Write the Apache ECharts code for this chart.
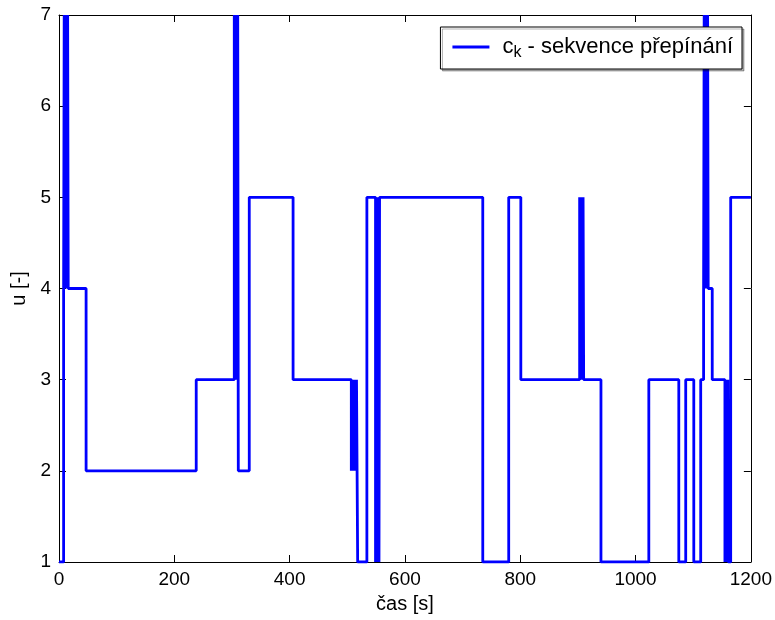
<!DOCTYPE html>
<html>
<head>
<meta charset="utf-8">
<script src="https://cdn.jsdelivr.net/npm/echarts@6/dist/echarts.min.js"></script>
<style>
html,body{margin:0;padding:0;background:#fff;}
#chart{width:775px;height:620px;}
</style>
</head>
<body>
<div id="chart"></div>
<script>
// switching times [s] and the value held from that time on
const times = [
  0, 8, 9, 10, 11, 12, 13, 14, 15, 16, 17,
  47, 238,
  304, 305, 306, 307, 308, 309, 310, 311,
  330, 406,
  507, 508, 509, 510, 511, 512, 513, 514, 515, 516, 517, 518,
  534,
  549, 550, 551, 552, 553, 554, 555, 556, 557,
  735, 780, 801,
  903, 904, 905, 906, 907, 908, 909, 910, 911,
  940, 1023, 1075, 1087, 1101, 1113,
  1118, 1119, 1120, 1121, 1122, 1123, 1124, 1125, 1126,
  1133,
  1155, 1156, 1157, 1158, 1159, 1160, 1161,
  1165, 1200
];
const values = [
  1, 4, 7, 4, 7, 4, 7, 4, 7, 4, 4,
  2, 3,
  7, 3, 7, 3, 7, 3, 7, 2,
  5, 3,
  2, 3, 2, 3, 2, 3, 2, 3, 2, 3, 2, 1,
  5,
  1, 5, 1, 5, 1, 5, 1, 5, 5,
  1, 5, 3,
  5, 3, 5, 3, 5, 3, 5, 3, 3,
  1, 3, 1, 3, 1, 3,
  4, 7, 4, 7, 4, 7, 4, 7, 4,
  3,
  1, 3, 1, 3, 1, 3, 1,
  5, 5
];
const xTicks = {min: 0, max: 1200, interval: 200};
const yTicks = {min: 1, max: 7, interval: 1};
const seriesName = 'ck';
const legendText = 'sekvence přepínání';
const xTitle = 'čas [s]';
const yTitle = 'u [-]';

const data = times.map((t, i) => [t, values[i]]);
const FONT = 'Liberation Sans, Arial, Helvetica, sans-serif';
const axisCommon = {
  axisLine: {show: true, onZero: false, lineStyle: {color: '#000', width: 1}},
  axisTick: {show: true, inside: true, length: 7, lineStyle: {color: '#000'}},
  splitLine: {show: false}
};

const chart = echarts.init(document.getElementById('chart'), null, {renderer: 'canvas'});
chart.setOption({
  animation: false,
  backgroundColor: '#fff',
  grid: {left: 59, right: 23, top: 15, bottom: 58, containLabel: false},
  xAxis: [
    Object.assign({type: 'value', position: 'bottom', ...xTicks,
      name: xTitle, nameLocation: 'middle', nameGap: 32,
      nameTextStyle: {fontFamily: FONT, fontSize: 20, color: '#000'},
      axisLabel: {fontFamily: FONT, fontSize: 19, color: '#000', margin: 8, formatter: v => String(v)}}, axisCommon),
    Object.assign({type: 'value', position: 'top', ...xTicks, axisLabel: {show: false}}, axisCommon)
  ],
  yAxis: [
    Object.assign({type: 'value', position: 'left', ...yTicks,
      name: yTitle, nameLocation: 'middle', nameGap: 29, nameRotate: 90,
      nameTextStyle: {fontFamily: FONT, fontSize: 20, color: '#000'},
      axisLabel: {fontFamily: FONT, fontSize: 19, color: '#000', margin: 8, formatter: v => String(v)}}, axisCommon),
    Object.assign({type: 'value', position: 'right', ...yTicks, axisLabel: {show: false}}, axisCommon)
  ],
  legend: {
    show: true,
    data: [seriesName],
    right: 33, top: 27,
    orient: 'vertical',
    backgroundColor: '#fff',
    borderColor: '#000', borderWidth: 1,
    padding: [6, 9, 8, 12],
    shadowColor: 'rgba(0,0,0,0.3)', shadowOffsetX: 2, shadowOffsetY: 2, shadowBlur: 0,
    itemWidth: 37, itemHeight: 14,
    icon: 'path://M0,5.5 L37,5.5 L37,8.5 L0,8.5 Z',
    formatter: () => '{c|c}{k|k}{t| - ' + legendText + '}',
    textStyle: {
      fontFamily: FONT, color: '#000', fontSize: 22,
      rich: {
        c: {fontFamily: FONT, fontSize: 22, color: '#000', padding: [0, 0, 0, 8], lineHeight: 28},
        k: {fontFamily: FONT, fontSize: 16, color: '#000', padding: [12, 0, 0, 0], lineHeight: 28},
        t: {fontFamily: FONT, fontSize: 22, color: '#000', lineHeight: 28}
      }
    }
  },
  series: [{
    name: seriesName,
    type: 'line',
    step: 'end',
    data: data,
    showSymbol: false,
    clip: true,
    lineStyle: {color: '#0000ff', width: 2.8},
    itemStyle: {color: '#0000ff'}
  }]
});
</script>
</body>
</html>
